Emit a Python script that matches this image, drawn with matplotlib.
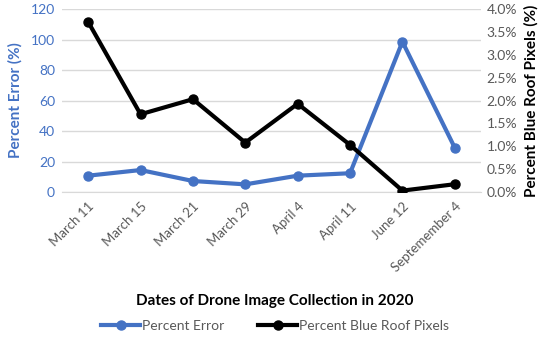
import numpy as np
import matplotlib.pyplot as plt
from matplotlib.ticker import FuncFormatter

plt.rcParams['font.family'] = ['Lato', 'DejaVu Sans']

dates = ["March 11", "March 15", "March 21", "March 29", "April 4",
         "April 11", "June 12", "Septemember 4"]
percent_error = [10.7, 14.4, 7.2, 5.0, 10.7, 12.3, 98.6, 29.0]
blue_roof_pct = [3.72, 1.70, 2.03, 1.08, 1.93, 1.03, 0.03, 0.17]

blue = "#4472C4"
grey = "#595959"

fig = plt.figure(figsize=(5.5, 3.38), dpi=100)
ax = fig.add_axes([0.1127, 0.432, 0.7618, 0.541])
ax2 = ax.twinx()

x = np.arange(len(dates))
l1, = ax.plot(x, percent_error, color=blue, lw=3, marker="o", ms=6.5, label="Percent Error", zorder=3)
l2, = ax2.plot(x, blue_roof_pct, color="black", lw=3, marker="o", ms=6.5, label="Percent Blue Roof Pixels", zorder=3)

ax.set_xlim(-0.5, len(dates) - 0.5)
ax.set_ylim(0, 120)
ax.set_yticks(np.arange(0, 121, 20))
ax2.set_ylim(0, 4)
ax2.set_yticks(np.arange(0, 4.01, 0.5))
ax2.yaxis.set_major_formatter(FuncFormatter(lambda v, p: f"{v:.1f}%"))

ax.grid(axis="y", color="#D9D9D9", lw=1)
ax.set_axisbelow(True)
for a in (ax, ax2):
    for s in a.spines.values():
        s.set_visible(False)
ax.spines["bottom"].set_visible(True)
ax.spines["bottom"].set_color("#D9D9D9")

ax.set_xticks(x)
ax.set_xticklabels(dates, rotation=45, ha="right", rotation_mode="anchor", fontsize=9.5, color=grey)
ax.tick_params(axis="x", length=0, pad=6)
ax.tick_params(axis="y", length=0, labelsize=10, labelcolor=blue, pad=5)
ax2.tick_params(axis="y", length=0, labelsize=10, labelcolor=grey, pad=4)

ax.set_ylabel("Percent Error (%)", color=blue, fontsize=11, fontweight="bold", labelpad=6)
ax2.set_ylabel("Percent Blue Roof Pixels (%)", color="black", fontsize=11, fontweight="bold", labelpad=5)

fig.text(0.5, 0.11, "Dates of Drone Image Collection in 2020", ha="center", va="center",
         fontsize=11, fontweight="bold")
fig.legend(handles=[l1, l2], loc="center", bbox_to_anchor=(0.5, 0.035), ncol=2, frameon=False,
           fontsize=10, labelcolor=grey, handlelength=2.8, handletextpad=0.1, columnspacing=2.5)

fig.savefig("out.png", dpi=100)
